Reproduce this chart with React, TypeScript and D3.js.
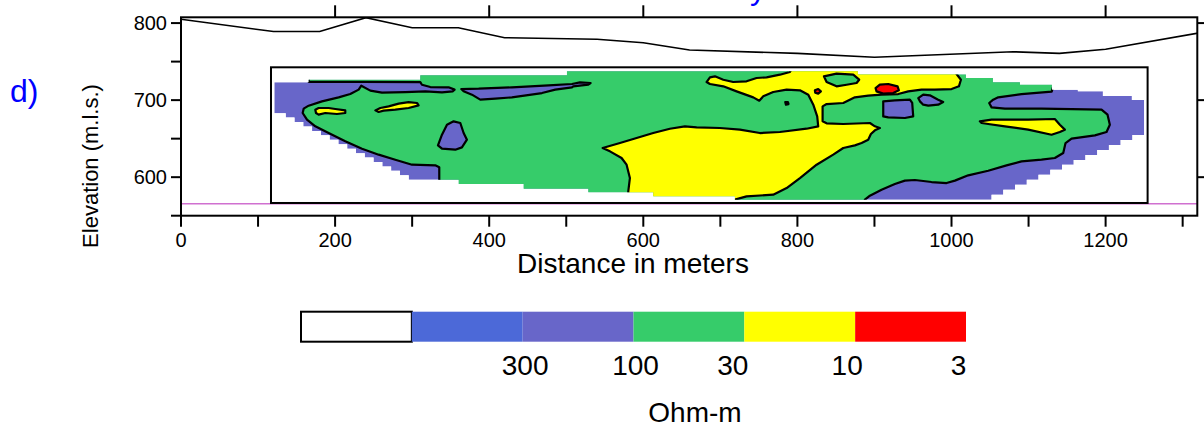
import React from "react";
import * as d3 from "d3";

// ground surface along the profile (distance m, elevation m)
const topoDist = [0, 120, 180, 240, 300, 360, 420, 540, 600, 660, 800, 900, 1080, 1140, 1200, 1320];
const topoElev = [805, 789, 789, 807, 794, 794, 781, 779, 774.5, 765, 760.7, 755.6, 762.8, 760.7, 766, 787];

// model window [d0, d1, e0, e1] and reference level
const modelBox = [116.8, 1254.5, 566.5, 742.6];
const refLevel = 565.6;

// outline of the inverted cells (stepped, horizontal then vertical)
const coverage = [
  [121.1, 723.1], [165.7, 726.5], [310.5, 732.2], [500.9, 737.4], [878.5, 733.2],
  [1018.7, 728.7], [1053.7, 723.1], [1088.8, 720.0], [1130.3, 713.5], [1164.0, 711.4],
  [1196.5, 705.3], [1234.1, 700.1], [1250.0, 654.7],
  [1234.8, 648.2], [1219.5, 641.8], [1204.3, 635.3], [1189.1, 628.9], [1173.8, 622.4],
  [1158.6, 616.0], [1143.4, 609.5], [1128.2, 603.1], [1112.9, 596.6], [1097.7, 590.2],
  [1082.5, 583.7], [1067.2, 577.3], [1052.0, 570.8],
  [718.9, 575.2], [612.9, 580.4], [528.6, 585.0], [444.7, 591.1], [360.4, 596.7],
  [295.5, 602.5], [284.1, 608.2], [272.7, 614.0], [261.3, 619.7], [249.9, 625.5],
  [238.5, 631.2], [227.1, 637.0], [215.7, 642.8], [204.3, 648.5], [192.9, 654.3],
  [181.5, 660.0], [170.1, 665.8], [158.7, 671.5], [147.3, 677.3], [135.9, 683.0],
];

// contour zones (distance m, elevation m)
const greenMain = [
  [165.7, 745], [1140, 745], [1130, 711], [1090.9, 707.9], [1060.6, 703.6], [1054.1, 700.6],
  [1048.9, 696.3], [1052.0, 690.6], [1069.3, 688.9], [1116.8, 688.9], [1194.7, 687.6],
  [1202.5, 681.1], [1205.5, 668.1], [1201.2, 658.6], [1186.1, 654.3], [1155.8, 650.0],
  [1148.0, 644.3], [1145.0, 631.4], [1134.1, 624.9], [1116.8, 622.7], [1090.9, 620.5],
  [1071.4, 615.3], [1047.6, 608.4], [1021.7, 602.4], [1004.4, 595.5], [993.6, 592.4],
  [974.1, 593.7], [952.5, 596.3], [939.5, 595.5], [926.5, 591.1], [909.2, 583.8],
  [894.1, 576.0], [887.6, 570.8], [885.4, 560], [335.2, 560], [335.2, 612.8],
  [330.0, 615.4], [299.8, 616.2], [278.1, 622.7], [256.5, 629.2], [234.9, 637.0],
  [213.2, 646.5], [191.6, 657.3], [174.3, 666.0], [163.5, 674.6], [157.9, 683.3],
  [159.2, 688.9], [165.7, 692.8], [183.0, 698.4], [204.6, 703.6], [219.7, 707.9],
  [230.6, 713.6], [234.0, 718.7], [245.7, 712.3], [260.8, 709.7], [291.1, 710.5],
  [317.1, 711.4], [338.7, 710.1], [352.5, 711.4], [355.1, 713.6], [347.3, 716.6],
  [323.6, 717.0], [312.7, 720.0], [310.6, 723.3], [234.9, 723.6], [165.7, 723.6],
];
const purpleBand = [
  [363.8, 714.4], [386.3, 714.8], [429.5, 716.6], [477.1, 719.2], [507.4, 720.9],
  [517.8, 723.1], [531.6, 722.2], [528.6, 720.0], [509.1, 717.9], [507.4, 716.6],
  [485.8, 713.6], [468.5, 709.2], [429.5, 703.6], [407.9, 701.9], [388.4, 700.6],
  [377.6, 707.1], [366.8, 711.4],
];
const purpleBlob = [
  [353.8, 672.5], [362.5, 670.3], [366.8, 657.3], [371.1, 648.7], [364.6, 638.7],
  [356.0, 635.7], [338.7, 637.0], [333.5, 641.3], [338.7, 655.1], [345.2, 668.1],
];
const yellowLeftA = [
  [174.3, 687.6], [178.6, 689.8], [191.6, 689.8], [200.3, 688.5], [213.2, 686.7],
  [213.2, 683.3], [202.4, 682.0], [187.3, 683.3], [178.6, 681.1], [175.2, 683.3],
];
const yellowLeftB = [
  [252.2, 686.7], [258.7, 689.8], [269.5, 691.9], [282.5, 695.4], [295.4, 697.5],
  [306.3, 696.3], [308.4, 693.2], [295.4, 689.8], [278.1, 687.6], [263.0, 686.3],
  [256.5, 684.6],
];
const yellowMain = [
  [682.1, 723.5], [686.5, 729.6], [693.0, 730.9], [703.8, 726.5], [716.7, 723.5],
  [734.0, 724.4], [747.0, 728.7], [760.0, 729.6], [777.3, 733.0], [790.3, 736.5],
  [794.6, 745], [1004.4, 745], [1006.5, 733.9], [1012.2, 726.5], [1009.6, 717.9],
  [1000.1, 714.4], [978.4, 713.6], [961.1, 713.6], [943.8, 711.4], [930.8, 707.9],
  [909.2, 707.1], [891.9, 705.8], [874.6, 703.6], [859.5, 696.3], [837.9, 694.9],
  [832.7, 691.9], [832.7, 672.5], [837.9, 669.9], [859.5, 669.0], [894.1, 670.3],
  [900.6, 666.0], [907.0, 663.8], [900.6, 660.8], [895.4, 656.0], [891.9, 648.7],
  [883.3, 644.4], [874.6, 641.3], [859.5, 637.9], [846.5, 629.2], [824.9, 616.2],
  [803.3, 598.9], [786.0, 585.9], [768.6, 577.3], [734.0, 575.1], [718.9, 570.8],
  [718.9, 560], [580.5, 560], [580.5, 581.6], [582.6, 598.9], [578.3, 616.2],
  [571.8, 624.9], [556.7, 633.5], [547.2, 637.9], [569.7, 644.4], [591.3, 650.8],
  [612.9, 657.3], [634.5, 662.9], [654.0, 666.0], [669.2, 664.7], [699.4, 663.8],
  [725.4, 661.7], [751.3, 657.3], [777.3, 658.6], [811.9, 662.9], [827.0, 666.0],
  [825.7, 678.9], [820.6, 694.1], [814.1, 707.1], [803.3, 712.7], [786.0, 713.6],
  [768.6, 710.5], [755.7, 704.9], [750.5, 699.3], [742.7, 703.6], [721.1, 711.4],
  [703.8, 717.9], [686.5, 720.9],
];
const greenIsle = [
  [834.4, 730.9], [850.8, 734.3], [872.5, 733.0], [880.2, 726.5], [876.8, 722.2],
  [863.8, 720.0], [850.8, 717.9], [837.9, 723.5],
];
const redA = [
  [901.4, 715.7], [907.0, 720.0], [917.9, 720.9], [930.0, 717.9], [931.7, 712.7],
  [924.3, 709.2], [911.4, 708.4], [902.7, 711.4],
];
const redB = [[822.7, 712.7], [827.0, 714.4], [830.5, 711.4], [827.0, 708.4], [823.1, 709.7]];
const purpleBox = [
  [911.4, 698.4], [926.5, 699.7], [946.0, 700.6], [949.0, 696.3], [950.3, 678.9],
  [939.5, 676.8], [917.9, 677.6], [911.4, 678.9], [911.4, 689.8],
];
const purpleSmall = [
  [956.8, 702.7], [963.3, 707.1], [971.9, 706.2], [982.7, 700.6], [989.2, 697.5],
  [982.7, 694.1], [969.8, 692.8], [963.3, 694.1], [959.0, 698.4],
];
const yellowTongue = [
  [1036.8, 672.5], [1052.0, 674.6], [1099.5, 674.6], [1134.1, 675.5], [1140.6, 668.1],
  [1147.1, 661.7], [1140.6, 658.6], [1129.8, 655.1], [1099.5, 661.7], [1069.3, 666.0],
  [1047.6, 669.0], [1039.0, 670.3],
];
const purpleDot = [[784.2, 697.5], [787.7, 697.5], [788.5, 694.9], [785.1, 694.1]];

// resistivity (Ohm-m) of each zone, drawn in this order
const zones = [
  { rho: 50, pts: greenMain },
  { rho: 150, pts: purpleBand },
  { rho: 150, pts: purpleBlob },
  { rho: 20, pts: yellowLeftA },
  { rho: 20, pts: yellowLeftB },
  { rho: 20, pts: yellowMain },
  { rho: 50, pts: greenIsle },
  { rho: 5, pts: redA },
  { rho: 5, pts: redB },
  { rho: 150, pts: purpleBox },
  { rho: 150, pts: purpleSmall },
  { rho: 20, pts: yellowTongue },
  { rho: 150, pts: purpleDot },
];
const baseRho = 150;

// colour scale
const legendValues = [300, 100, 30, 10, 3];
const legendColors = ["#ffffff", "#4c69d8", "#6866c9", "#36cc6a", "#ffff00", "#ff0000"];

const FONT = "'Liberation Sans', Arial, Helvetica, sans-serif";

export default function App() {
  const x = d3.scaleLinear().domain([0, 1319]).range([181, 1197.3]);
  const y = d3.scaleLinear().domain([550, 807.5]).range([215.7, 17.3]);

  // colour by resistivity: >300 blue, 100-300 purple, 30-100 green, 10-30 yellow, 3-10 red
  const rhoColor = d3
    .scaleThreshold<number, string>()
    .domain([10, 30, 100, 300])
    .range(legendColors.slice(1).reverse());

  const poly = d3.line<number[]>().x((p) => x(p[0])).y((p) => y(p[1]));
  const stepPoly = d3
    .line<number[]>()
    .x((p) => x(p[0]))
    .y((p) => y(p[1]))
    .curve(d3.curveStepAfter);
  const covPath = stepPoly([...coverage, coverage[0]]) + "Z";

  const topo = d3
    .line<number>()
    .x((_, i) => x(topoDist[i]))
    .y((d) => y(d));

  const leftTicks = d3.range(550, 801, 50);
  const bottomTicks = d3.range(0, 1301, 100);
  const topTicks = d3.range(200, 1201, 200);
  const rightTicks = [600, 700, 800];

  const [fx0, fx1] = x.range();
  const [fy0, fy1] = y.range();

  const band = d3.scaleBand<number>().domain(d3.range(legendColors.length)).range([301, 966]);
  const labelShift = [2.5, 2, -11.5, -8, -7.5];

  return (
    <svg
      width={1204}
      height={426}
      style={{ position: "absolute", left: 0, top: 0, display: "block", background: "#fff" }}
      fontFamily={FONT}
    >
      <defs>
        <clipPath id="cov">
          <path d={covPath} />
        </clipPath>
        <clipPath id="frame">
          <rect x={fx0} y={fy1} width={fx1 - fx0} height={fy0 - fy1} />
        </clipPath>
      </defs>

      {/* panel tag and cut title */}
      <text x={10} y={102} fontSize={32} fill="#0000ff">d)</text>
      <text x={750} y={-1} fontSize={32} fill="#0000ff">y</text>

      {/* reference level */}
      <line x1={fx0} x2={fx1} y1={y(refLevel)} y2={y(refLevel)} stroke="#d070d0" strokeWidth={1.5} />

      {/* section */}
      <g clipPath="url(#cov)">
        <path d={covPath} fill={rhoColor(baseRho)} />
        {zones.map((z, i) => (
          <path
            key={i}
            d={poly(z.pts) + "Z"}
            fill={rhoColor(z.rho)}
            stroke="#000"
            strokeWidth={2.2}
            strokeLinejoin="round"
          />
        ))}
      </g>

      {/* model window */}
      <rect
        x={x(modelBox[0])}
        y={y(modelBox[3])}
        width={x(modelBox[1]) - x(modelBox[0])}
        height={y(modelBox[2]) - y(modelBox[3])}
        fill="none"
        stroke="#000"
        strokeWidth={2}
      />

      {/* topography */}
      <g clipPath="url(#frame)">
        <path d={topo(topoElev) || ""} fill="none" stroke="#000" strokeWidth={1.6} />
      </g>

      {/* frame */}
      <rect x={fx0} y={fy1} width={fx1 - fx0} height={fy0 - fy1} fill="none" stroke="#000" strokeWidth={2} />

      {/* left axis */}
      {leftTicks.map((v) => (
        <g key={"l" + v}>
          <line x1={fx0 - 10} x2={fx0} y1={y(v)} y2={y(v)} stroke="#000" strokeWidth={2} />
          {v % 100 === 0 && (
            <text x={167} y={y(v)} dy="0.36em" textAnchor="end" fontSize={20}>
              {v}
            </text>
          )}
        </g>
      ))}
      {/* right axis */}
      {rightTicks.map((v) => (
        <line key={"r" + v} x1={fx1} x2={fx1 + 10} y1={y(v)} y2={y(v)} stroke="#000" strokeWidth={2} />
      ))}
      {/* top axis */}
      {topTicks.map((v) => (
        <line key={"t" + v} x1={x(v)} x2={x(v)} y1={fy1} y2={fy1 - 12} stroke="#000" strokeWidth={2} />
      ))}
      {/* bottom axis */}
      {bottomTicks.map((v) => (
        <g key={"b" + v}>
          <line x1={x(v)} x2={x(v)} y1={fy0} y2={fy0 + 11} stroke="#000" strokeWidth={2} />
          {v % 200 === 0 && (
            <text x={x(v)} y={246.7} textAnchor="middle" fontSize={20}>
              {v}
            </text>
          )}
        </g>
      ))}

      <text x={633} y={273} textAnchor="middle" fontSize={28}>Distance in meters</text>
      <text transform="translate(98,166) rotate(-90)" textAnchor="middle" fontSize={22}>
        Elevation (m.l.s.)
      </text>

      {/* colour legend */}
      {legendColors.map((c, i) => (
        <rect
          key={"c" + i}
          x={band(i)!}
          y={311.7}
          width={band.bandwidth()}
          height={30}
          fill={c}
          stroke={i === 0 ? "#000" : "none"}
          strokeWidth={2}
        />
      ))}
      {legendValues.map((v, i) => (
        <text
          key={"v" + v}
          x={band(i + 1)! + band.bandwidth() + labelShift[i]}
          y={375}
          textAnchor="middle"
          fontSize={28}
        >
          {v}
        </text>
      ))}
      <text x={695} y={421.5} textAnchor="middle" fontSize={28}>Ohm-m</text>
    </svg>
  );
}
